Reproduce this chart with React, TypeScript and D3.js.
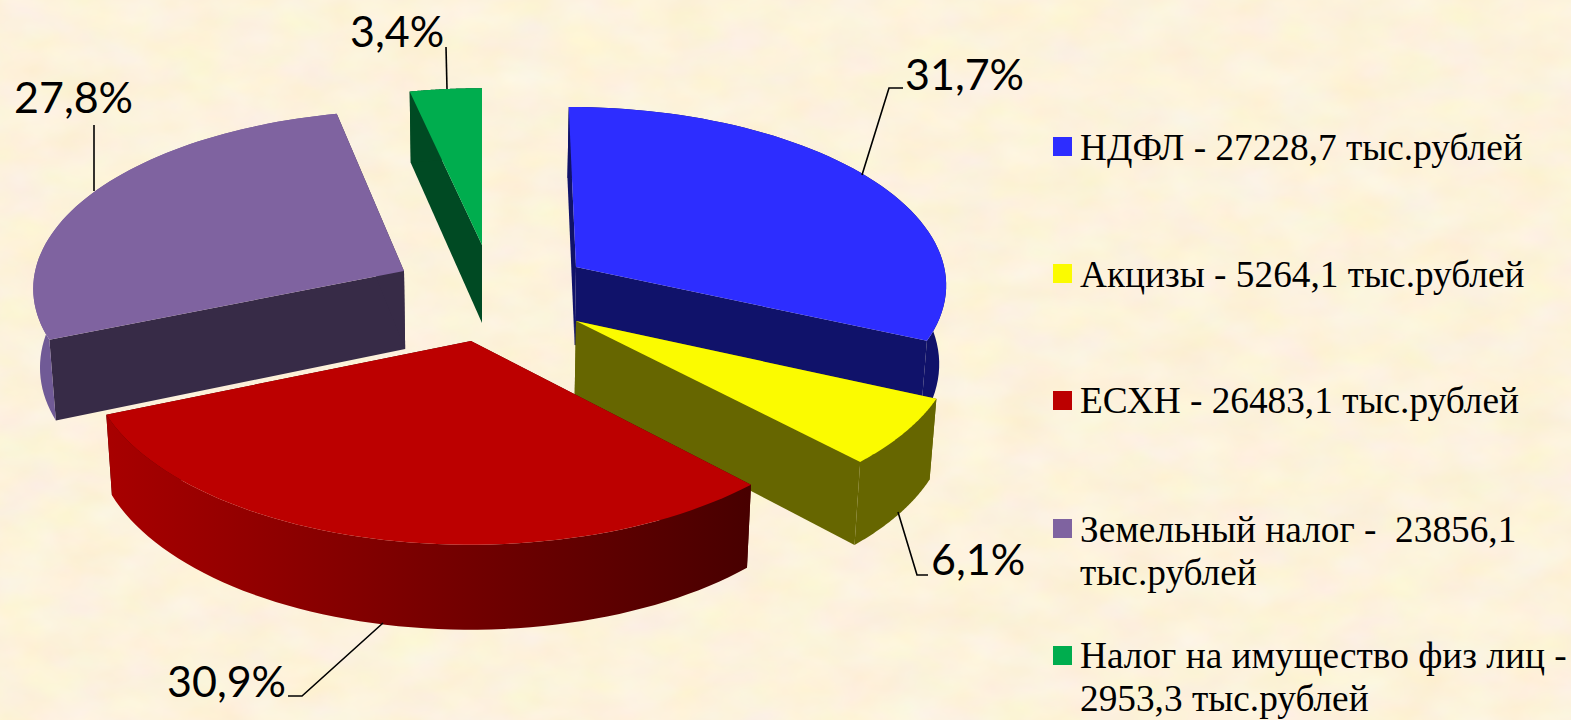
import React from "react";
import * as d3 from "d3";

const W = 1571, H = 720;

const categories = ["НДФЛ", "Акцизы", "ЕСХН", "Земельный налог", "Налог на имущество физ лиц"];
const values = [27228.7, 5264.1, 26483.1, 23856.1, 2953.3];
const percentLabels = ["31,7%", "6,1%", "30,9%", "27,8%", "3,4%"];
const legendLines = [
  ["НДФЛ - 27228,7 тыс.рублей"],
  ["Акцизы - 5264,1 тыс.рублей"],
  ["ЕСХН - 26483,1 тыс.рублей"],
  ["Земельный налог -  23856,1", "тыс.рублей"],
  ["Налог на имущество физ лиц -", "2953,3 тыс.рублей"],
];
const topColors = ["#2d2dff", "#fbfb00", "#bc0000", "#7f63a0", "#00ad4e"];
const cutColors = ["#10126a", "#666600", "#480000", "#372b47", "#004a23"];
const rimColors = ["#10126a", "#666600", "url(#redRim)", "#705a96", "#004a23"];

// explosion: screen position of each slice's apex
const apexX = [576, 576, 471, 404, 482];
const apexY = [267, 321, 341, 271, 245];
const labelX = [905, 931, 167, 14, 350];
const labelY = [90, 575, 697, 113, 47];
const leaderX = [[862, 889, 903], [898, 917, 928], [383, 302, 288], [94, 94], [447, 446]];
const leaderY = [[175, 88, 88], [512, 575, 575], [623, 696, 696], [191, 125], [89, 47]];
const legendBoxY = [137, 264, 391, 519, 646];
const legendBase = [160, 287, 413, 542, 668];

// perspective projection of the pie plane
const X0 = 482, Y0 = 300, RX = 374, RY = 179, K = 0.085, SHRINK = 0.985;

function toWorld(ax: number, ay: number) {
  const yp = (Y0 - ay) / RY;
  const Z = yp / (1 - K * yp);
  const s = 1 / (1 + K * Z);
  return { X: (ax - X0) / s, Z };
}
function project(X: number, Z: number) {
  const s = 1 / (1 + K * Z);
  return [X0 + X * s, Y0 - RY * Z * s] as [number, number];
}
function rimPoint(i: number, theta: number, r: number): [number, number] {
  const w = toWorld(apexX[i], apexY[i]);
  return project(w.X + RX * r * Math.sin(theta), w.Z + r * Math.cos(theta));
}
function lower(p: [number, number], z: number): [number, number] {
  return [X0 + (p[0] - X0) * SHRINK, p[1] + 78 - 7 * z];
}

const line = d3.line<[number, number]>().x((d) => d[0]).y((d) => d[1]);
const pie = d3.pie<number>().sort(null).startAngle(0).endAngle(2 * Math.PI);
const arcs = pie(values);

function arcPts(i: number, a0: number, a1: number) {
  return d3.range(0, 61).map((k) => {
    const t = a0 + ((a1 - a0) * k) / 60;
    return { top: rimPoint(i, t, 1), z: Math.cos(t) };
  });
}

function Slice({ i }: { i: number }) {
  const a = arcs[i];
  const pts = arcPts(i, a.startAngle, a.endAngle);
  const apex = rimPoint(i, 0, 0);
  const apexB = lower(apex, 0);
  const top = pts.map((p) => p.top);
  const bottom = pts.map((p) => lower(p.top, p.z));
  const first = top[0], last = top[top.length - 1];
  const fb = bottom[0], lb = bottom[bottom.length - 1];
  return (
    <g>
      <path d={line([apex, first, fb, apexB])! + "Z"} fill={cutColors[i]} />
      <path d={line([apex, last, lb, apexB])! + "Z"} fill={cutColors[i]} />
      <path d={line([...top, ...bottom.slice().reverse()])! + "Z"} fill={rimColors[i]} />
      <path d={line([apex, ...top])! + "Z"} fill={topColors[i]} />
    </g>
  );
}

export default function App() {
  const order = [4, 3, 0, 1, 2];
  return (
    <svg width={W} height={H} viewBox={`0 0 ${W} ${H}`} style={{ position: "absolute", left: 0, top: 0 }}>
      <defs>
        <filter id="paper" x="0" y="0" width="100%" height="100%" colorInterpolationFilters="sRGB">
          <feTurbulence type="fractalNoise" baseFrequency="0.018 0.03" numOctaves={3} seed={7} />
          <feColorMatrix
            type="matrix"
            values="0.03 0 0 0 0.975  0 0.05 0 0 0.925  0 0 0.11 0 0.805  0 0 0 0 1"
          />
        </filter>
        <linearGradient id="redRim" gradientUnits="userSpaceOnUse" x1={105} x2={750} y1={0} y2={0}>
          <stop offset="0" stopColor="#a80000" />
          <stop offset="0.5" stopColor="#780000" />
          <stop offset="1" stopColor="#480000" />
        </linearGradient>
      </defs>
      <rect width={W} height={H} fill="#fdf2db" />
      <rect width={W} height={H} filter="url(#paper)" />
      {order.map((i) => (
        <Slice key={categories[i]} i={i} />
      ))}
      {leaderX.map((xs, i) => (
        <path
          key={i}
          d={line(xs.map((x, k) => [x, leaderY[i][k]] as [number, number]))!}
          fill="none"
          stroke="#000"
          strokeWidth={1.6}
        />
      ))}
      {percentLabels.map((t, i) => (
        <text key={t} x={labelX[i]} y={labelY[i]} fontFamily="Lato" fontSize={43} fill="#000">
          {t}
        </text>
      ))}
      {legendLines.map((ls, i) => (
        <g key={i}>
          <rect x={1053} y={legendBoxY[i]} width={19} height={19} fill={topColors[i]} />
          {ls.map((l, k) => (
            <text
              key={k}
              x={1080}
              y={legendBase[i] + k * 43}
              fontFamily="Liberation Serif"
              fontSize={37.3}
              fill="#000"
              style={{ whiteSpace: "pre" }}
            >
              {l}
            </text>
          ))}
        </g>
      ))}
    </svg>
  );
}
